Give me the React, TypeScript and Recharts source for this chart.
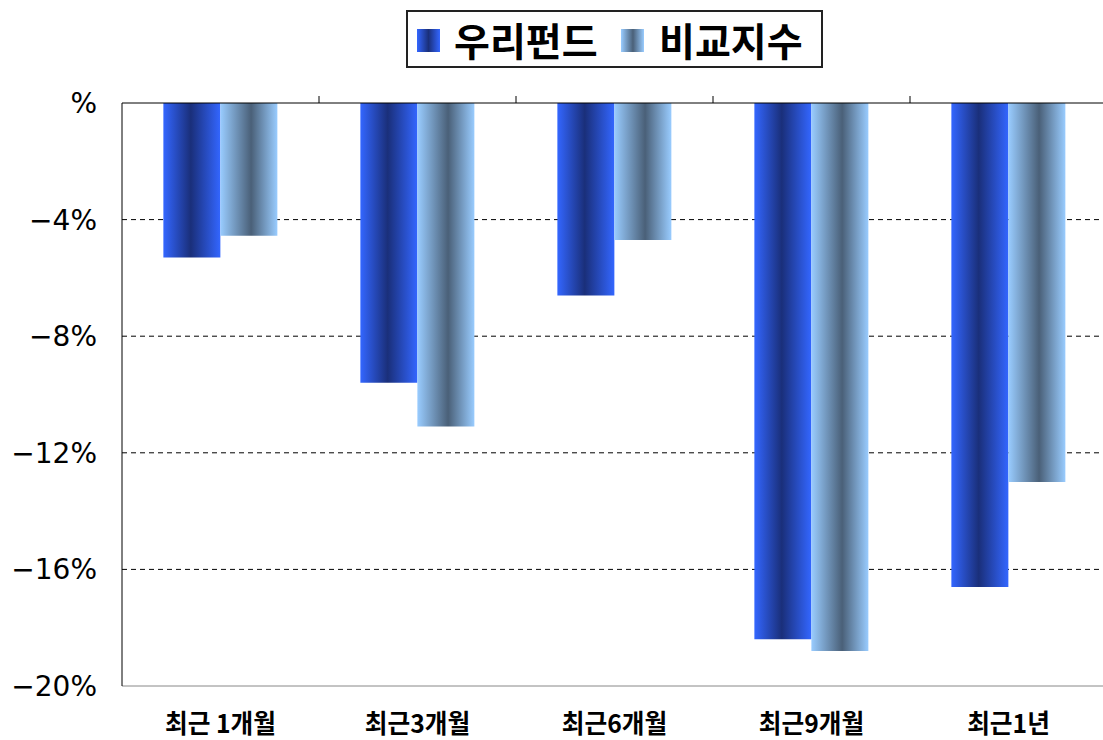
import { Bar, BarChart, CartesianGrid, Legend, XAxis, YAxis } from 'recharts'

const periods = ['최근 1개월', '최근3개월', '최근6개월', '최근9개월', '최근1년']
const fundReturns = [-5.3, -9.6, -6.6, -18.4, -16.6]
const indexReturns = [-4.55, -11.1, -4.7, -18.8, -13.0]
const yTicks = [0, -4, -8, -12, -16, -20]
const gridValues = [-4, -8, -12, -16]

const data = periods.map((p, i) => ({ period: p, fund: fundReturns[i], index: indexReturns[i] }))

const KR = '"Noto Sans CJK KR", "Noto Sans", sans-serif'
const NUM = '"DejaVu Sans", sans-serif'

function fmtPct(v: number) {
  if (v === 0) return '%'
  return `\u2212${Math.abs(v)}%`
}

function YTick({ x, y, payload }: any) {
  return (
    <text x={x} y={y + 10} textAnchor="end" fontFamily={NUM} fontSize={28} fill="#000">
      {fmtPct(payload.value)}
    </text>
  )
}

function XTick({ x, y, payload }: any) {
  return (
    <text
      transform={`translate(${x},${y + 45}) scale(0.95,1)`}
      textAnchor="middle"
      fontFamily={KR}
      fontWeight={700}
      fontSize={26}
      fill="#000"
    >
      {payload.value}
    </text>
  )
}

// tick marks on the zero line sit between categories
function BoundaryTick({ x, y, payload, index }: any) {
  const off = payload?.offset ?? 0
  if (!index) return <g />
  const bx = x - off
  return <line x1={bx} x2={bx} y1={y} y2={y + 7} stroke="#000" strokeWidth={1} />
}

const fundCss = 'linear-gradient(to right, #3366ff 0%, #1a2f7a 50%, #3366ff 100%)'
const indexCss = 'linear-gradient(to right, #99ccff 0%, #4a6078 52%, #99ccff 100%)'

const sq = (left: number, bg: string): any => ({
  position: 'absolute',
  left,
  top: 17,
  width: 23,
  height: 23,
  background: bg,
})

const label = (left: number): any => ({
  position: 'absolute',
  left,
  top: 8,
  lineHeight: '39px',
  whiteSpace: 'nowrap',
})

function LegendBox() {
  return (
    <div
      style={{
        position: 'relative',
        boxSizing: 'border-box',
        width: 417,
        height: 58,
        border: '2px solid #222',
        background: '#fff',
        fontFamily: KR,
        fontWeight: 700,
        fontSize: 39,
        color: '#000',
      }}
    >
      <span style={sq(9, fundCss)} />
      <span style={label(46)}>우리펀드</span>
      <span style={sq(213, indexCss)} />
      <span style={label(251)}>비교지수</span>
    </div>
  )
}

export default function App() {
  return (
    <div style={{ position: 'fixed', left: 0, top: 0, background: '#fff' }}>
      <BarChart
        width={1103}
        height={740}
        data={data}
        margin={{ top: 73, right: -4, left: 0, bottom: 14 }}
        barCategoryGap="21%"
        barGap={0}
      >
        <defs>
          <linearGradient id="fundGrad" x1="0" y1="0" x2="1" y2="0">
            <stop offset="0%" stopColor="#3366ff" />
            <stop offset="48%" stopColor="#1a2f7a" />
            <stop offset="100%" stopColor="#3366ff" />
          </linearGradient>
          <linearGradient id="indexGrad" x1="0" y1="0" x2="1" y2="0">
            <stop offset="0%" stopColor="#99ccff" />
            <stop offset="54%" stopColor="#4a6078" />
            <stop offset="100%" stopColor="#99ccff" />
          </linearGradient>
        </defs>
        <CartesianGrid
          vertical={false}
          horizontalValues={gridValues}
          stroke="#000"
          strokeDasharray="5 4"
        />
        <XAxis
          xAxisId="cat"
          dataKey="period"
          orientation="bottom"
          height={40}
          axisLine={{ stroke: '#888' }}
          tickLine={false}
          tickSize={0}
          tick={<XTick />}
          interval={0}
        />
        <XAxis
          xAxisId="top"
          dataKey="period"
          orientation="top"
          height={30}
          axisLine={{ stroke: '#000' }}
          tickLine={false}
          tickSize={7}
          tickMargin={0}
          tick={<BoundaryTick />}
          interval={0}
        />
        <YAxis
          width={122}
          domain={[-20, 0]}
          ticks={yTicks}
          axisLine={{ stroke: '#000' }}
          tickLine={false}
          tickSize={0}
          tickMargin={25}
          tick={<YTick />}
          interval={0}
        />
        <Legend
          verticalAlign="middle"
          align="center"
          layout="horizontal"
          wrapperStyle={{ top: 10, left: 406, width: 417 }}
          content={() => <LegendBox />}
        />
        <Bar xAxisId="cat" dataKey="fund" name="우리펀드" fill="url(#fundGrad)" isAnimationActive={false} />
        <Bar xAxisId="cat" dataKey="index" name="비교지수" fill="url(#indexGrad)" isAnimationActive={false} />
      </BarChart>
    </div>
  )
}
